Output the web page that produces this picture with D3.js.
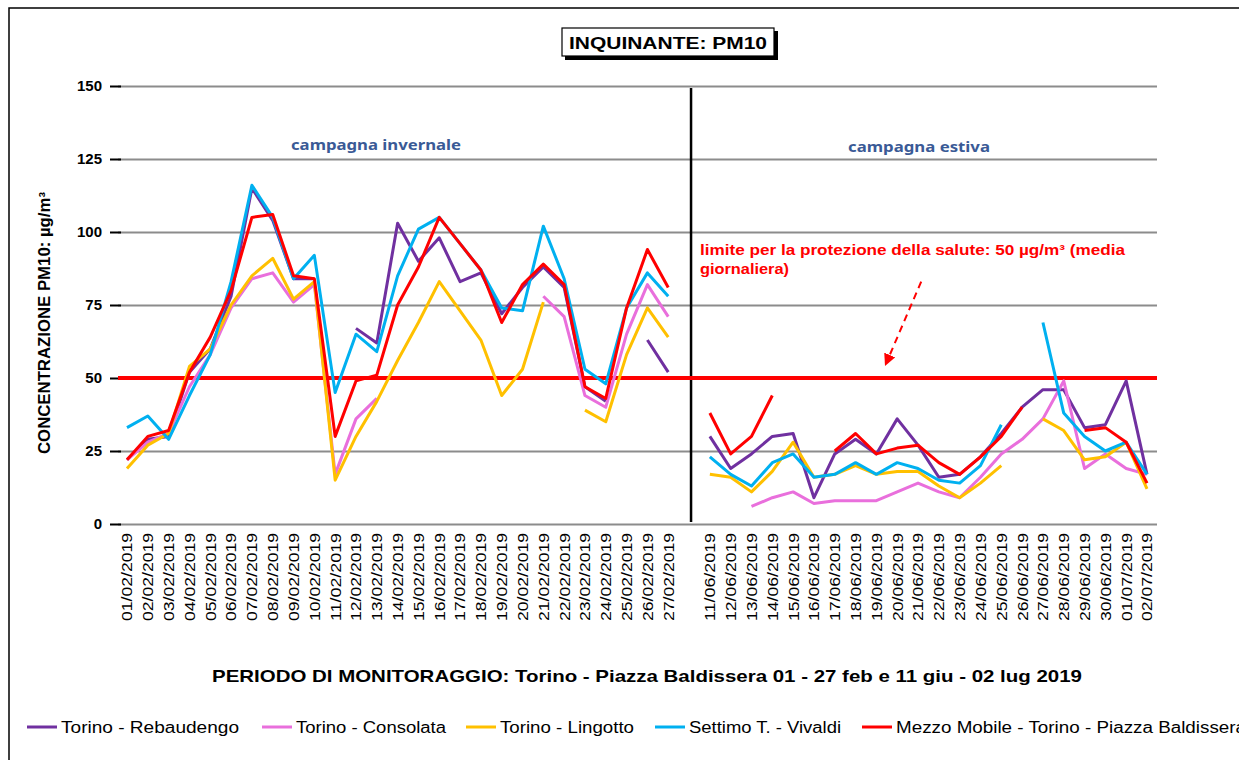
<!DOCTYPE html>
<html>
<head>
<meta charset="utf-8">
<script src="https://cdn.jsdelivr.net/npm/d3@7"></script>
<style>
  body { margin: 0; background: #fff; }
  svg { display: block; font-family: "Liberation Sans", Arial, sans-serif; }
  .grid line { stroke: #8c8c8c; stroke-width: 2; }
  .grid path { display: none; }
  .yaxis path { display: none; }
  .yaxis line { stroke: #000; stroke-width: 2; }
  .yaxis text { font-size: 15px; font-weight: bold; fill: #000; }
</style>
</head>
<body>
<svg width="1239" height="760"></svg>
<script>
// dates of the two campaigns
const winterDates = ['01/02/2019','02/02/2019','03/02/2019','04/02/2019','05/02/2019','06/02/2019','07/02/2019',
  '08/02/2019','09/02/2019','10/02/2019','11/02/2019','12/02/2019','13/02/2019','14/02/2019','15/02/2019',
  '16/02/2019','17/02/2019','18/02/2019','19/02/2019','20/02/2019','21/02/2019','22/02/2019','23/02/2019',
  '24/02/2019','25/02/2019','26/02/2019','27/02/2019']
const summerDates = ['11/06/2019','12/06/2019','13/06/2019','14/06/2019','15/06/2019','16/06/2019','17/06/2019',
  '18/06/2019','19/06/2019','20/06/2019','21/06/2019','22/06/2019','23/06/2019','24/06/2019','25/06/2019',
  '26/06/2019','27/06/2019','28/06/2019','29/06/2019','30/06/2019','01/07/2019','02/07/2019']

const yTicks = [0, 25, 50, 75, 100, 125, 150]
const limitValue = 50

// PM10 daily values (µg/m³), null = missing
const rebaudengoWinter = [22, 29, 30, 52, 60, 78, 115, 104, 84, 84, null, 67, 62, 103, 90, 98, 83, 86, 72, 81, 88, 81, 47, 42, null, 63, 52]
const rebaudengoSummer = [30, 19, 24, 30, 31, 9, 24, 29, 24, 36, 27, 16, 17, 23, 31, 40, 46, 46, 33, 34, 49, 17]
const consolataWinter = [22, 28, 31, 47, 58, 74, 84, 86, 76, 82, 17, 36, 43, null, null, null, null, null, null, null, 78, 71, 44, 40, 65, 82, 71]
const consolataSummer = [null, null, 6, 9, 11, 7, 8, 8, 8, 11, 14, 11, 9, 16, 24, 29, 36, 49, 19, 24, 19, 17]
const lingottoWinter = [19, 27, 31, 54, 60, 75, 85, 91, 77, 83, 15, 30, 42, 56, 69, 83, 73, 63, 44, 53, 76, null, 39, 35, 58, 74, 64]
const lingottoSummer = [17, 16, 11, 18, 28, 16, 17, 20, 17, 18, 18, 13, 9, 14, 20, null, 36, 32, 22, 23, 28, 12]
const vivaldiWinter = [33, 37, 29, 44, 58, 83, 116, 105, 84, 92, 45, 65, 59, 85, 101, 105, 96, 87, 74, 73, 102, 84, 53, 48, 74, 86, 78]
const vivaldiSummer = [23, 17, 13, 21, 24, 16, 17, 21, 17, 21, 19, 15, 14, 20, 34, null, 69, 38, 30, 25, 28, 17]
const mobileWinter = [22, 30, 32, 52, 64, 80, 105, 106, 85, 84, 30, 49, 51, 75, 88, 105, 96, 87, 69, 82, 89, 82, 47, 43, 74, 94, 81]
const mobileSummer = [38, 24, 30, 44, null, null, 25, 31, 24, 26, 27, 21, 17, 23, 30, 40, null, null, 32, 33, 28, 14]

const seriesNames = ['Torino - Rebaudengo', 'Torino - Consolata', 'Torino - Lingotto', 'Settimo T. - Vivaldi',
  'Mezzo Mobile - Torino - Piazza Baldissera']
const seriesColors = ['#7030a0', '#e96fdc', '#ffc000', '#00b0f0', '#ff0000']

const gapKey = 'gap'
const categories = [...winterDates, gapKey, ...summerDates]

const series = [
  [rebaudengoWinter, rebaudengoSummer],
  [consolataWinter, consolataSummer],
  [lingottoWinter, lingottoSummer],
  [vivaldiWinter, vivaldiSummer],
  [mobileWinter, mobileSummer]
].map(([w, s], i) => ({
  name: seriesNames[i],
  color: seriesColors[i],
  values: [...w, null, ...s].map((v, j) => ({ date: categories[j], value: v }))
}))

const svg = d3.select('svg')

const plotLeft = 118, plotRight = 1157

const x = d3.scalePoint()
  .domain(categories)
  .range([127, 1147])

const y = d3.scaleLinear()
  .domain([0, 150])
  .range([524, 86])

// outer frame
svg.append('rect')
  .attr('x', 9).attr('y', 8)
  .attr('width', 1250).attr('height', 770)
  .attr('fill', 'none')
  .attr('stroke', '#000')
  .attr('stroke-width', 1.5)

// gridlines
svg.append('g')
  .attr('class', 'grid')
  .attr('transform', `translate(${plotLeft},0)`)
  .call(d3.axisLeft(y).tickValues(yTicks).tickSize(-(plotRight - plotLeft)).tickFormat(''))

// y axis ticks + labels
svg.append('g')
  .attr('class', 'yaxis')
  .attr('transform', 'translate(121,0)')
  .call(d3.axisLeft(y).tickValues(yTicks).tickSize(11).tickPadding(8))

// x labels (skip gap)
svg.append('g')
  .selectAll('text')
  .data(categories.filter(d => d !== gapKey))
  .join('text')
  .attr('transform', d => `translate(${x(d)},533) rotate(-90)`)
  .attr('text-anchor', 'end')
  .attr('dy', '0.36em')
  .attr('font-size', 15)
  .attr('textLength', 88)
  .attr('lengthAdjust', 'spacingAndGlyphs')
  .text(d => d)

// separator between campaigns
svg.append('line')
  .attr('x1', x(gapKey) + 2).attr('x2', x(gapKey) + 2)
  .attr('y1', y(150) + 2).attr('y2', y(0) - 2)
  .attr('stroke', '#000')
  .attr('stroke-width', 2.5)

// limit line
svg.append('line')
  .attr('x1', plotLeft).attr('x2', plotRight)
  .attr('y1', y(limitValue)).attr('y2', y(limitValue))
  .attr('stroke', '#ff0000')
  .attr('stroke-width', 4)

const line = d3.line()
  .defined(d => d.value != null)
  .x(d => x(d.date))
  .y(d => y(d.value))

svg.append('g')
  .selectAll('path')
  .data(series)
  .join('path')
  .attr('fill', 'none')
  .attr('stroke', d => d.color)
  .attr('stroke-width', 3)
  .attr('stroke-linejoin', 'round')
  .attr('d', d => line(d.values))

// campaign labels
svg.append('text')
  .attr('x', 376).attr('y', 150)
  .attr('text-anchor', 'middle')
  .attr('font-family', '"Noto Sans", sans-serif')
  .attr('font-weight', 'bold')
  .attr('font-size', 15)
  .attr('fill', '#3a5a96')
  .attr('textLength', 170)
  .attr('lengthAdjust', 'spacingAndGlyphs')
  .text('campagna invernale')

svg.append('text')
  .attr('x', 919).attr('y', 152)
  .attr('text-anchor', 'middle')
  .attr('font-family', '"Noto Sans", sans-serif')
  .attr('font-weight', 'bold')
  .attr('font-size', 15)
  .attr('fill', '#3a5a96')
  .attr('textLength', 142)
  .attr('lengthAdjust', 'spacingAndGlyphs')
  .text('campagna estiva')

// limit annotation
const note = svg.append('text')
  .attr('fill', '#ff0000')
  .attr('font-weight', 'bold')
  .attr('font-size', 15)
note.append('tspan')
  .attr('x', 700).attr('y', 255)
  .attr('textLength', 425)
  .attr('lengthAdjust', 'spacingAndGlyphs')
  .text('limite per la protezione della salute: 50 µg/m³ (media')
note.append('tspan')
  .attr('x', 700).attr('y', 274)
  .attr('textLength', 89)
  .attr('lengthAdjust', 'spacingAndGlyphs')
  .text('giornaliera)')

svg.append('defs').append('marker')
  .attr('id', 'arrow')
  .attr('viewBox', '0 0 10 10')
  .attr('refX', 5).attr('refY', 5)
  .attr('markerWidth', 6).attr('markerHeight', 6)
  .attr('orient', 'auto')
  .append('path')
  .attr('d', 'M0,0 L10,5 L0,10 z')
  .attr('fill', '#ff0000')

svg.append('line')
  .attr('x1', x('20/06/2019') + 24).attr('y1', y(83))
  .attr('x2', x('19/06/2019') + 11).attr('y2', y(56))
  .attr('stroke', '#ff0000')
  .attr('stroke-width', 2)
  .attr('stroke-dasharray', '7,5')
  .attr('marker-end', 'url(#arrow)')

// title box
svg.append('rect')
  .attr('x', 565).attr('y', 31)
  .attr('width', 213).attr('height', 29)
  .attr('fill', '#000')
svg.append('rect')
  .attr('x', 562).attr('y', 28)
  .attr('width', 212).attr('height', 28)
  .attr('fill', '#fff')
  .attr('stroke', '#000')
  .attr('stroke-width', 1.2)
svg.append('text')
  .attr('x', 569).attr('y', 49)
  .attr('font-weight', 'bold')
  .attr('font-size', 17)
  .attr('textLength', 198)
  .attr('lengthAdjust', 'spacingAndGlyphs')
  .text('INQUINANTE: PM10')

// y axis title
svg.append('text')
  .attr('transform', 'translate(50,323) rotate(-90)')
  .attr('text-anchor', 'middle')
  .attr('font-weight', 'bold')
  .attr('font-size', 16)
  .attr('textLength', 262)
  .attr('lengthAdjust', 'spacingAndGlyphs')
  .text('CONCENTRAZIONE PM10: µg/m³')

// x axis title
svg.append('text')
  .attr('x', 212).attr('y', 682)
  .attr('font-weight', 'bold')
  .attr('font-size', 17)
  .attr('textLength', 870)
  .attr('lengthAdjust', 'spacingAndGlyphs')
  .text('PERIODO DI MONITORAGGIO:  Torino - Piazza Baldissera 01 - 27 feb e 11 giu - 02 lug 2019')

// legend
const legendX = [27, 262, 466, 655, 862]
const legendLen = [178, 150, 134, 152, 350]
const legend = svg.append('g')
  .selectAll('g')
  .data(series)
  .join('g')
  .attr('transform', (d, i) => `translate(${legendX[i]},727)`)
legend.append('line')
  .attr('x1', 0).attr('x2', 30)
  .attr('stroke', d => d.color)
  .attr('stroke-width', 3)
legend.append('text')
  .attr('x', 34).attr('y', 6)
  .attr('font-size', 16)
  .attr('textLength', (d, i) => legendLen[i])
  .attr('lengthAdjust', 'spacingAndGlyphs')
  .text(d => d.name)
</script>
</body>
</html>
